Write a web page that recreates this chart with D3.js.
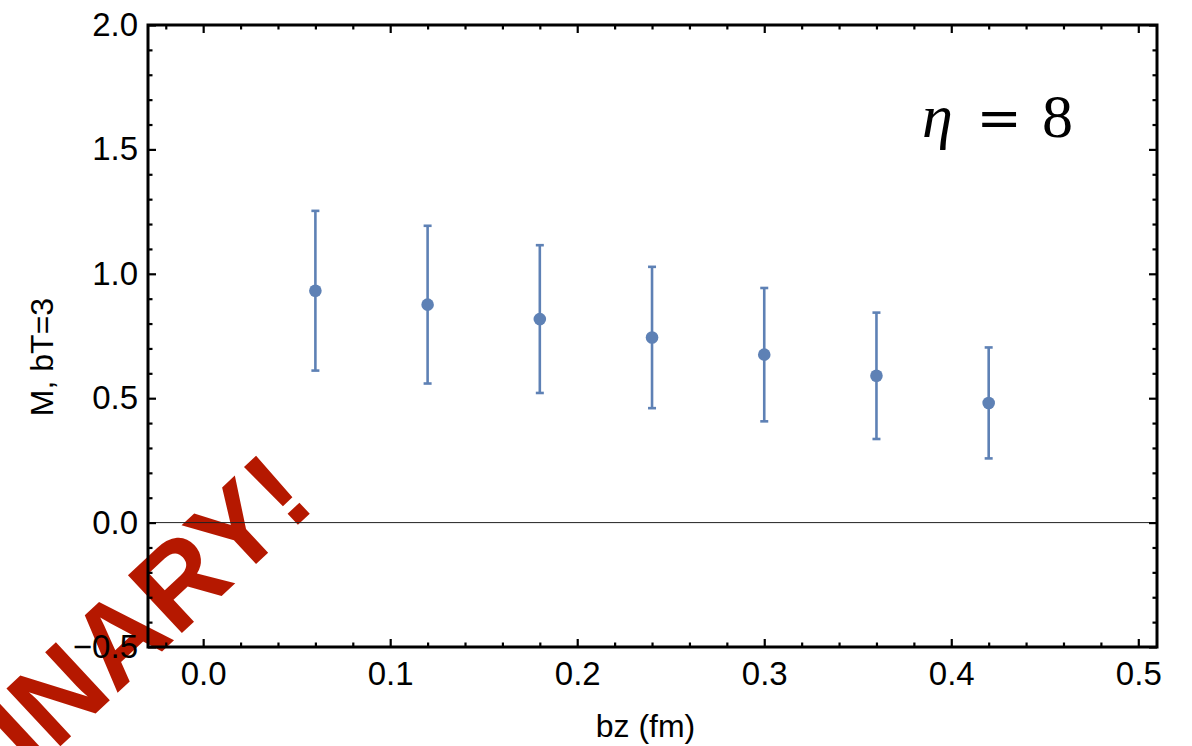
<!DOCTYPE html>
<html>
<head>
<meta charset="utf-8">
<script src="https://cdn.jsdelivr.net/npm/d3@7/dist/d3.min.js"></script>
<style>
  html, body { margin: 0; padding: 0; background: #fff; }
  svg { display: block; }
</style>
</head>
<body>
<svg id="chart" width="1192" height="746"></svg>
<script>
// Separation bz (fm) for each measurement
const bz = [0.06, 0.12, 0.18, 0.24, 0.30, 0.36, 0.42];
// Central values of M at bT = 3
const mValues = [0.932, 0.876, 0.818, 0.744, 0.675, 0.590, 0.481];
// Symmetric uncertainties
const mErrors = [0.321, 0.317, 0.297, 0.284, 0.268, 0.254, 0.223];

const xMajorTicks = [0.0, 0.1, 0.2, 0.3, 0.4, 0.5];
const yMajorTicks = [-0.5, 0.0, 0.5, 1.0, 1.5, 2.0];
const xDomain = [-0.0295, 0.51];
const yDomain = [-0.5, 2.0];

const xLabel = "bz (fm)";
const yLabel = "M, bT=3";
const watermark = "PRELIMINARY!";

const W = 1192, H = 746;
const margin = { left: 148, right: W - 1157, top: 25, bottom: H - 647 };
const svg = d3.select("#chart");

const x = d3.scaleLinear().domain(xDomain).range([margin.left, W - margin.right]);
const y = d3.scaleLinear().domain(yDomain).range([H - margin.bottom, margin.top]);

const color = "#5E81B5";
const tickFont = "'Liberation Sans', Arial, Helvetica, sans-serif";
const serifFont = "'Liberation Serif', 'DejaVu Serif', serif";

// Red watermark behind the plot
svg.append("text")
  .attr("transform", "translate(318,506) rotate(-43)")
  .attr("text-anchor", "end")
  .attr("font-family", tickFont)
  .attr("font-weight", "bold")
  .attr("font-size", 115)
  .attr("fill", "#B51800")
  .text(watermark);

const plot = svg.append("g");

// Zero reference line
plot.append("line")
  .attr("x1", x.range()[0]).attr("x2", x.range()[1])
  .attr("y1", y(0)).attr("y2", y(0))
  .attr("stroke", "#222").attr("stroke-width", 1);

// Minor/major tick values
const xMinor = d3.range(-0.02, 0.5101, 0.02).map(v => +v.toFixed(2)).filter(v => v >= xDomain[0] && v <= xDomain[1]);
const yMinor = d3.range(-0.5, 2.001, 0.1).map(v => +v.toFixed(1));
const isMajorX = v => xMajorTicks.some(t => Math.abs(t - v) < 1e-9);
const isMajorY = v => yMajorTicks.some(t => Math.abs(t - v) < 1e-9);

// Inward ticks on all four sides, built from d3 axes
function frameAxis(axisFn, scale, values, majorFn, transform, sign) {
  const g = plot.append("g").attr("transform", transform);
  g.call(axisFn(scale).tickValues(values).tickSize(0).tickFormat(""));
  g.select(".domain").remove();
  g.selectAll(".tick line")
    .attr("stroke", "#000")
    .attr("stroke-width", 2.2)
    .each(function(d) {
      const len = majorFn(d) ? 8 : 4.5;
      const ln = d3.select(this);
      if (axisFn === d3.axisBottom || axisFn === d3.axisTop) ln.attr("y2", sign * len);
      else ln.attr("x2", sign * len);
    });
  return g;
}
const x0 = x.range()[0], x1 = x.range()[1], y0 = y.range()[0], y1 = y.range()[1];
frameAxis(d3.axisBottom, x, xMinor, isMajorX, `translate(0,${y0})`, -1);
frameAxis(d3.axisTop, x, xMinor, isMajorX, `translate(0,${y1})`, 1);
frameAxis(d3.axisLeft, y, yMinor, isMajorY, `translate(${x0},0)`, 1);
frameAxis(d3.axisRight, y, yMinor, isMajorY, `translate(${x1},0)`, -1);

// Tick labels
const fmt = d => (d < 0 ? "\u2212" : "") + Math.abs(d).toFixed(1);
const xAxisLabels = plot.append("g").attr("transform", `translate(0,${y0})`)
  .call(d3.axisBottom(x).tickValues(xMajorTicks).tickSize(0).tickPadding(15).tickFormat(fmt));
xAxisLabels.select(".domain").remove();
xAxisLabels.selectAll("text").attr("font-family", tickFont).attr("font-size", 33).attr("fill", "#000");

const yAxisLabels = plot.append("g").attr("transform", `translate(${x0},0)`)
  .call(d3.axisLeft(y).tickValues(yMajorTicks).tickSize(0).tickPadding(10).tickFormat(fmt));
yAxisLabels.select(".domain").remove();
yAxisLabels.selectAll("text").attr("font-family", tickFont).attr("font-size", 33).attr("fill", "#000");

// Frame
plot.append("rect")
  .attr("x", x0).attr("y", y1)
  .attr("width", x1 - x0).attr("height", y0 - y1)
  .attr("fill", "none").attr("stroke", "#000").attr("stroke-width", 3);

// Error bars and points
const data = bz.map((b, i) => ({ b, m: mValues[i], e: mErrors[i] }));
const pts = plot.append("g");
const capW = 4;
pts.selectAll("line.bar").data(data).join("line")
  .attr("class", "bar")
  .attr("x1", d => x(d.b)).attr("x2", d => x(d.b))
  .attr("y1", d => y(d.m - d.e)).attr("y2", d => y(d.m + d.e))
  .attr("stroke", color).attr("stroke-width", 2.6);
pts.selectAll("line.capTop").data(data).join("line")
  .attr("class", "capTop")
  .attr("x1", d => x(d.b) - capW).attr("x2", d => x(d.b) + capW)
  .attr("y1", d => y(d.m + d.e)).attr("y2", d => y(d.m + d.e))
  .attr("stroke", color).attr("stroke-width", 2.6);
pts.selectAll("line.capBot").data(data).join("line")
  .attr("class", "capBot")
  .attr("x1", d => x(d.b) - capW).attr("x2", d => x(d.b) + capW)
  .attr("y1", d => y(d.m - d.e)).attr("y2", d => y(d.m - d.e))
  .attr("stroke", color).attr("stroke-width", 2.6);
pts.selectAll("circle").data(data).join("circle")
  .attr("cx", d => x(d.b)).attr("cy", d => y(d.m)).attr("r", 6.3)
  .attr("fill", color);

// Annotation: eta = 8, typeset in a serif face
const ann = svg.append("g").attr("font-family", serifFont).attr("fill", "#000");
ann.append("text")
  .attr("x", 922).attr("y", 137)
  .attr("font-style", "italic").attr("font-size", 62)
  .text("\u03B7");
ann.append("text")
  .attr("x", 999).attr("y", 137)
  .attr("text-anchor", "middle")
  .attr("font-family", "'DejaVu Serif', serif").attr("font-size", 54)
  .text("=");
ann.append("text")
  .attr("x", 1073).attr("y", 137)
  .attr("text-anchor", "end").attr("font-size", 62)
  .text("8");

// Axis titles
svg.append("text")
  .attr("x", (x0 + x1) / 2 - 7).attr("y", 737)
  .attr("text-anchor", "middle")
  .attr("font-family", tickFont).attr("font-size", 32)
  .text(xLabel);
svg.append("text")
  .attr("transform", `translate(53,${(y0 + y1) / 2 + 21}) rotate(-90)`)
  .attr("text-anchor", "middle")
  .attr("font-family", tickFont).attr("font-size", 32)
  .text(yLabel);
</script>
</body>
</html>
